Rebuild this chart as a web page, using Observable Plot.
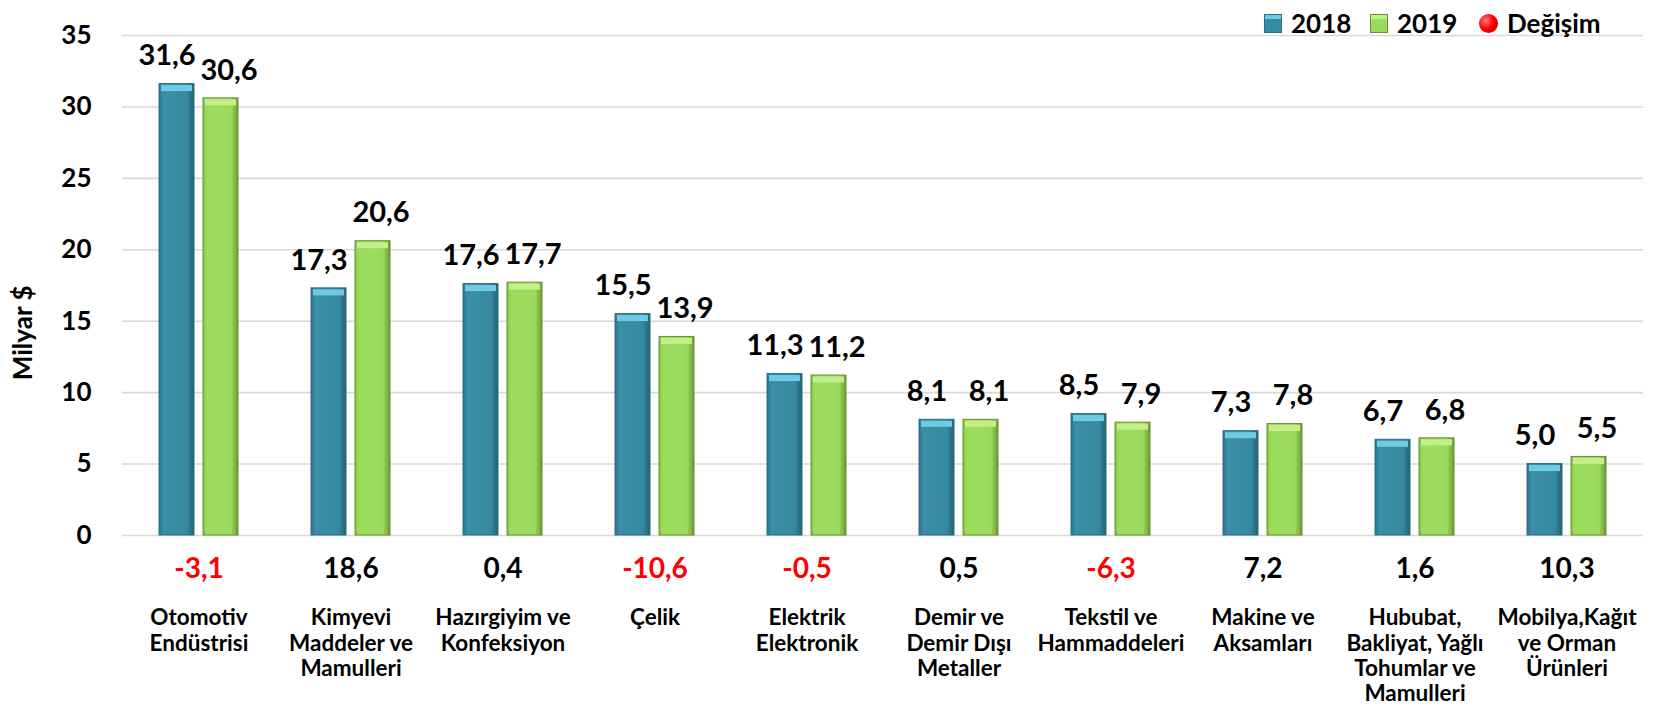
<!DOCTYPE html>
<html>
<head>
<meta charset="utf-8">
<script src="https://cdn.jsdelivr.net/npm/d3@7"></script>
<script src="https://cdn.jsdelivr.net/npm/@observablehq/plot@0.6"></script>
<style>
  body { margin: 0; background: #fff; font-family: Lato, "Open Sans", sans-serif; }
  #wrap { position: relative; width: 1655px; height: 717px; }
  .lg { position: absolute; top: 8px; height: 30px; display: flex; align-items: center;
        font: 700 26px Lato, sans-serif; color: #000; white-space: nowrap; }
  .lg .sw { width: 18px; height: 19px; display: inline-block; margin-right: 9px; box-sizing: border-box; }
  .lg .s18 { background: linear-gradient(180deg, #6fcbe3 0 25%, #378aa0 25% 100%); border: 1px solid #2a6f84; }
  .lg .s19 { background: linear-gradient(180deg, #c3ef8b 0 25%, #9bdb5b 25% 100%); border: 1px solid #6b8f34; }
  .lg .dot { width: 19px; height: 19px; border-radius: 50%; display: inline-block; margin-right: 9px;
             background: radial-gradient(circle at 35% 35%, #ff8080 0%, #ff0000 45%, #b00000 100%); }
</style>
</head>
<body>
<div id="wrap">
  <span class="lg" style="left:1264px"><span class="sw s18"></span>2018</span>
  <span class="lg" style="left:1370px"><span class="sw s19"></span>2019</span>
  <span class="lg" style="left:1479px"><span class="dot"></span>Değişim</span>
</div>
<script>
const categories = [
  "Otomotiv Endüstrisi",
  "Kimyevi Maddeler ve Mamulleri",
  "Hazırgiyim ve Konfeksiyon",
  "Çelik",
  "Elektrik Elektronik",
  "Demir ve Demir Dışı Metaller",
  "Tekstil ve Hammaddeleri",
  "Makine ve Aksamları",
  "Hububat, Bakliyat, Yağlı Tohumlar ve Mamulleri",
  "Mobilya,Kağıt ve Orman Ürünleri"
];
const tickLabels = [
  "Otomotiv\nEndüstrisi",
  "Kimyevi\nMaddeler ve\nMamulleri",
  "Hazırgiyim ve\nKonfeksiyon",
  "Çelik",
  "Elektrik\nElektronik",
  "Demir ve\nDemir Dışı\nMetaller",
  "Tekstil ve\nHammaddeleri",
  "Makine ve\nAksamları",
  "Hububat,\nBakliyat, Yağlı\nTohumlar ve\nMamulleri",
  "Mobilya,Kağıt\nve Orman\nÜrünleri"
];
const values2018 = [31.6, 17.3, 17.6, 15.5, 11.3, 8.1, 8.5, 7.3, 6.7, 5.0];
const values2019 = [30.6, 20.6, 17.7, 13.9, 11.2, 8.1, 7.9, 7.8, 6.8, 5.5];
const changes = [-3.1, 18.6, 0.4, -10.6, -0.5, 0.5, -6.3, 7.2, 1.6, 10.3];
const yTicks = [0, 5, 10, 15, 20, 25, 30, 35];
const yLabel = "Milyar $";

const fmt = v => v.toFixed(1).replace(".", ",");
const rows2018 = categories.map((c, i) => ({cat: c, year: "2018", value: values2018[i]}));
const rows2019 = categories.map((c, i) => ({cat: c, year: "2019", value: values2019[i]}));
const changeRows = categories.map((c, i) => ({cat: c, change: changes[i], label: tickLabels[i]}));

const NS = "http://www.w3.org/2000/svg";
function defsMark() {
  const defs = document.createElementNS(NS, "defs");
  const grads = [
    ["g18", [["0%", "#2c7489"], ["12%", "#3a8ea6"], ["80%", "#378aa0"], ["100%", "#245f70"]]],
    ["g19", [["0%", "#86c447"], ["12%", "#9edd5e"], ["80%", "#9bdb5b"], ["100%", "#6f9a35"]]]
  ];
  for (const [id, stops] of grads) {
    const g = document.createElementNS(NS, "linearGradient");
    g.setAttribute("id", id);
    g.setAttribute("x1", "0"); g.setAttribute("x2", "1");
    g.setAttribute("y1", "0"); g.setAttribute("y2", "0");
    for (const [o, c] of stops) {
      const s = document.createElementNS(NS, "stop");
      s.setAttribute("offset", o); s.setAttribute("stop-color", c);
      g.appendChild(s);
    }
    defs.appendChild(g);
  }
  return defs;
}

const BAR_INSET = 44;
const txt = {fontSize: 29, fontWeight: 700, fill: "#000"};

const chart = Plot.plot({
  width: 1655,
  height: 717,
  marginLeft: 122,
  marginRight: 12,
  marginTop: 35,
  marginBottom: 182,
  style: {fontFamily: "Lato, 'Open Sans', sans-serif", background: "transparent", overflow: "visible"},
  x: {domain: categories, paddingInner: 0.48, paddingOuter: 0.24, axis: null},
  y: {domain: [0, 35], axis: null},
  marks: [
    defsMark,
    Plot.gridY(yTicks, {stroke: "#d9d9d9", strokeOpacity: 1, strokeWidth: 1.6}),
    Plot.axisY(yTicks, {tickSize: 0, tickPadding: 31, fontSize: 26, fontWeight: 700, fill: "#000", label: null}),
    Plot.text([yLabel], {frameAnchor: "left", rotate: -90, textAnchor: "end", dx: -99, fontSize: 26, fontWeight: 700, fill: "#000"}),
    // 2018 bars
    Plot.barY(rows2018, {x: "cat", y: "value", insetRight: BAR_INSET, fill: "url(#g18)", stroke: "#2a6f84", strokeWidth: 1}),
    Plot.tickY(rows2018, {x: "cat", y: "value", insetLeft: 2, insetRight: BAR_INSET + 2, dy: 4, stroke: "#6fcbe3", strokeWidth: 6}),
    // 2019 bars
    Plot.barY(rows2019, {x: "cat", y: "value", insetLeft: BAR_INSET, fill: "url(#g19)", stroke: "#6b8f34", strokeWidth: 1}),
    Plot.tickY(rows2019, {x: "cat", y: "value", insetLeft: BAR_INSET + 2, insetRight: 2, dy: 4, stroke: "#c3ef8b", strokeWidth: 6}),
    // value labels
    Plot.text(rows2018, {x: "cat", y: "value", text: d => fmt(d.value), dx: -32, dy: -28, ...txt}),
    Plot.text(rows2019, {x: "cat", y: "value", text: d => fmt(d.value), dx: 30, dy: -28, ...txt}),
    // change row
    Plot.text(changeRows, {x: "cat", frameAnchor: "bottom", dy: 42, text: d => fmt(d.change),
      filter: d => d.change < 0, fontSize: 28, fontWeight: 700, fill: "#ff0000"}),
    Plot.text(changeRows, {x: "cat", frameAnchor: "bottom", dy: 42, text: d => fmt(d.change),
      filter: d => d.change >= 0, fontSize: 28, fontWeight: 700, fill: "#000"}),
    // category labels
    Plot.text(changeRows, {x: "cat", frameAnchor: "bottom", dy: 72, lineAnchor: "top", text: "label",
      fontSize: 22.5, fontWeight: 700, lineHeight: 1.125, fill: "#000"})
  ]
});
document.getElementById("wrap").prepend(chart);
</script>
</body>
</html>
